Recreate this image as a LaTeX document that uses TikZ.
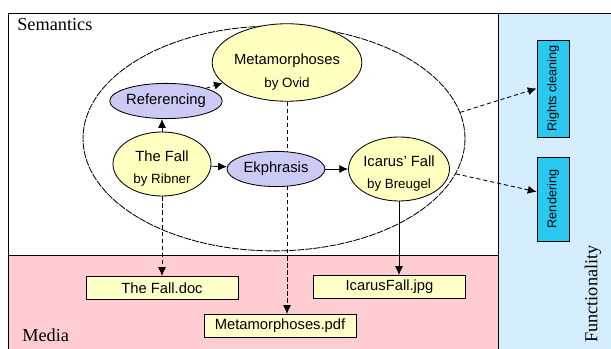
\documentclass[tikz,border=0pt]{standalone}
\usepackage{fontspec}
\setmainfont{Liberation Sans}
\newfontfamily\regionfont{Liberation Serif}
\usetikzlibrary{arrows.meta, shapes.geometric, calc}
\definecolor{workyellow}{RGB}{255,255,192}
\definecolor{actblue}{RGB}{202,202,245}
\definecolor{funccyan}{RGB}{40,200,240}
\definecolor{funcback}{RGB}{212,238,255}
\definecolor{mediapink}{RGB}{255,204,210}
\definecolor{fileyellow}{RGB}{255,255,200}

\begin{document}
\begin{tikzpicture}[>=Latex, font=\fontsize{10.5}{12}\selectfont,
    work/.style={
        ellipse, draw, line width=0.6pt, fill=workyellow,
        minimum width=2.45cm, minimum height=1.6cm, inner sep=0pt, align=center
    },
    act/.style={
        ellipse, draw, line width=0.6pt, fill=actblue,
        minimum width=2.45cm, minimum height=0.88cm, inner sep=0pt
    },
    file/.style={
        draw, line width=0.6pt, fill=fileyellow,
        minimum width=3.8cm, minimum height=0.58cm, inner sep=0pt
    },
    func/.style={
        draw, line width=0.6pt, fill=funccyan, rotate=90,
        minimum height=0.8cm, inner sep=0pt, font=\fontsize{9}{10}\selectfont
    },
    region/.style={line width=0.6pt, draw=black},
    flow/.style={-{Latex[length=2.2mm, width=2mm]}, line width=0.6pt},
    link/.style={-{Latex[length=2.2mm, width=2mm]}, line width=0.6pt, dash pattern=on 3pt off 2pt},
    rlab/.style={font=\regionfont\fontsize{13}{15}\selectfont, inner sep=0pt},
]
    \useasboundingbox (0,0) rectangle (15.275,8.725);

    % --- regiones ---
    \filldraw[region, fill=white]      (0.2,2.35)  rectangle (12.45,8.4);
    \filldraw[region, fill=mediapink]  (0.2,-0.1)  rectangle (12.45,2.35);
    \filldraw[region, fill=funcback]   (12.45,-0.1) rectangle (15.4,8.4);

    \node[rlab, anchor=west] (semlab) at (0.425,8.1) {Semantics};
    \node[rlab, anchor=west] (medlab) at (0.55,0.35) {Media};
    \node[rlab, rotate=90]   (funlab) at (14.825,1.375) {Functionality};

    % --- elipse semantica ---
    \node[ellipse, draw, line width=0.6pt, dash pattern=on 5pt off 0.8pt,
          minimum width=9.55cm, minimum height=5.62cm] (sem) at (6.85,5.2625) {};

    % --- obras y archivos ---
    \node[work] (meta) at (7.175,7.1625)
        {\rule{0pt}{21pt}Metamorphoses\\[4pt]{\fontsize{9.5}{11}\selectfont by Ovid}};
    \node[file] (pdf)  at (7.0,0.575) {Metamorphoses.pdf};
    \draw[link] (meta.south) -- (meta.south |- pdf.north);

    \node[act]  (ref)    at (4.15,6.2)   {Referencing};
    \node[work] (fall)   at (4.05,4.625)
        {\rule{0pt}{14pt}The Fall\\[4pt]{\fontsize{9.5}{11}\selectfont by Ribner}};
    \node[act]  (ekph)   at (6.9,4.5)    {Ekphrasis};
    \node[work] (icarus) at (9.975,4.5)
        {\rule{0pt}{14pt}Icarus' Fall\\[4pt]{\fontsize{9.5}{11}\selectfont by Breugel}};

    \node[file] (doc) at (4.05,1.525)   {The Fall.doc};
    \node[file] (jpg) at (9.7375,1.55)  {IcarusFall.jpg};

    % --- funcionalidad ---
    \node[func, minimum width=2.425cm] (rights) at (13.825,6.5125) {Rights cleaning};
    \node[func, minimum width=2.1cm]   (render) at (13.825,3.75)   {Rendering};

    % --- relaciones ---
    \draw[link] (ref) -- (meta);
    \draw[flow] (fall.north) -- (fall.north |- ref.south);
    \draw[flow] (fall) -- (ekph);
    \draw[flow] (ekph) -- (icarus);
    \draw[link] (fall.south) -- (fall.south |- doc.north);
    \draw[flow] (icarus.south) -- (icarus.south |- jpg.north);

    \draw[link] (sem.8) -- (rights.north);
    \draw[link] (sem.349) -- ($(render.north)!0.17!(render.north east)$);

\end{tikzpicture}
\end{document}
